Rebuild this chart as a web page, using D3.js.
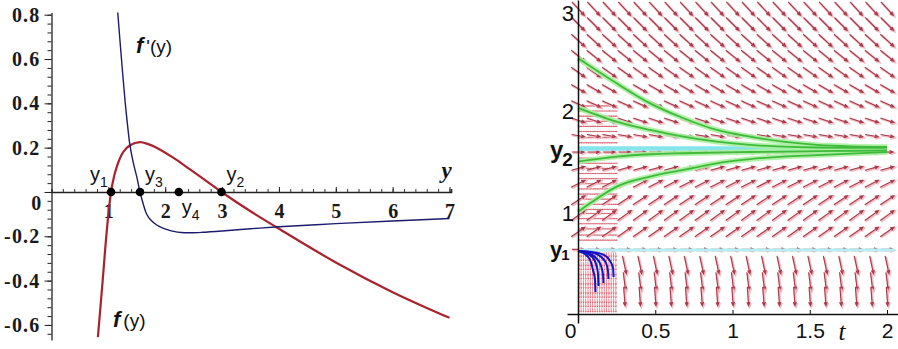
<!DOCTYPE html>
<html><head><meta charset="utf-8">
<script src="https://cdn.jsdelivr.net/npm/d3@7"></script>
<style>body{margin:0;background:#fff} svg{display:block}</style>
</head><body><svg id="c" width="898" height="349"></svg>
<script>
// ---------- Left panel data: f(y) and f'(y) ----------
const fY    = [0.816,0.90,0.973,1.047,1.10,1.148,1.20,1.264,1.38,1.556,1.70,1.847,2.14,2.43,2.72,2.99,3.5,3.95,5.0,6.0,7.0];
const fVal  = [-0.655,-0.40,-0.173,0,0.07,0.113,0.15,0.181,0.211,0.225,0.216,0.200,0.155,0.103,0.050,0,-0.087,-0.158,-0.318,-0.452,-0.568];
const dfY   = [1.165,1.218,1.294,1.33,1.38,1.44,1.50,1.556,1.62,1.67,1.75,1.85,1.95,2.05,2.15,2.28,2.45,2.65,3.0,3.5,4.0,5.0,6.0,7.0];
const dfVal = [0.81,0.64,0.41,0.32,0.21,0.13,0.068,0,-0.06,-0.098,-0.128,-0.149,-0.162,-0.171,-0.178,-0.183,-0.184,-0.182,-0.176,-0.166,-0.157,-0.143,-0.131,-0.12];
const rootLabels = ["1","3","4","2"];
const rootVals   = [1.047,1.556,2.24,2.99];
const xTicksL = [1,2,3,4,5,6,7];
const yTicksL = [-0.6,-0.4,-0.2,0,0.2,0.4,0.6,0.8];

// ---------- Right panel data: direction field and solutions ----------
const tTicks  = [0,0.5,1,1.5,2];
const yTicksR = [1,2,3];
const eqLabels = ["1","2"];
const eqVals   = [0.63,1.615];
const fieldT = [0,0.1,0.2,0.3,0.4,0.5,0.6,0.7,0.8,0.9,1.0,1.1,1.2,1.3,1.4,1.5,1.6,1.7,1.8,1.9,2.0];
const fieldY = [2.98,2.83,2.67,2.52,2.36,2.2,2.05,1.89,1.74,1.58,1.42,1.27,1.11,0.96,0.80,0.63,0.48,0.32,0.17];
const fieldSlope = [-1.62,-1.51,-1.36,-1.22,-1.06,-0.87,-0.70,-0.49,-0.27,0,0.40,0.77,1.0,1.1,1.05,0,-7,-12,-20];
const fineT = [0.005,0.02,0.035,0.05,0.065,0.08,0.095,0.11,0.125,0.14,0.155,0.17,0.185,0.2,0.215,0.23,0.245];
const fineY = [2.03,1.98,1.93,1.88,1.83,1.78,1.72,1.67,1.52,1.47,1.42,1.37,1.32,1.27,1.22,1.17,1.12,1.07,1.02,0.98,0.93,0.88,0.83,0.77,0.72,
               0.58,0.54,0.49,0.45,0.40,0.36,0.31,0.27,0.22,0.18,0.13,0.09,0.04];
const fineSlope = [-0.05,-0.05,-0.05,-0.05,-0.05,-0.05,-0.05,-0.05,0.05,0.05,0.05,0.05,0.05,0.05,0.05,0.05,0.05,0.05,0.05,0.05,0.05,0.05,0.05,0.05,0.05,
               -30,-30,-30,-30,-30,-30,-30,-30,-30,-30,-30,-30,-30];
const green1T = [0,0.25,0.466,0.68,0.898,1.113,1.327,1.545,1.761,2.0];
const green1Y = [2.494,2.25,2.055,1.912,1.795,1.73,1.681,1.649,1.635,1.63];
const green2T = [0,0.25,0.466,0.68,0.898,1.113,1.327,1.545,2.0];
const green2Y = [2.01,1.876,1.795,1.73,1.681,1.649,1.632,1.624,1.62];
const green3T = [0,0.25,0.466,0.68,1.113,1.545,2.0];
const green3Y = [1.486,1.535,1.558,1.568,1.58,1.588,1.595];
const green4T = [0,0.142,0.25,0.466,0.68,0.898,1.113,1.327,1.545,1.761,2.0];
const green4Y = [0.998,1.144,1.242,1.34,1.405,1.47,1.51,1.535,1.55,1.565,1.58];
const blue1T = [0,0.045,0.078,0.097,0.110,0.113];
const blue1Y = [0.615,0.585,0.527,0.429,0.332,0.215];
const blue2T = [0,0.052,0.091,0.117,0.129,0.133];
const blue2Y = [0.615,0.595,0.556,0.488,0.400,0.273];
const blue3T = [0,0.065,0.117,0.149,0.162,0.165];
const blue3Y = [0.615,0.595,0.546,0.468,0.380,0.302];
const blue4T = [0,0.078,0.142,0.181,0.194,0.197];
const blue4Y = [0.615,0.605,0.566,0.498,0.420,0.341];
const blue5T = [0,0.091,0.168,0.207,0.227,0.230];
const blue5Y = [0.615,0.605,0.576,0.517,0.449,0.361];

const svg = d3.select("#c");
svg.append("rect").attr("width",898).attr("height",349).attr("fill","#fff");

// ===================== LEFT PANEL =====================
const xL = d3.scaleLinear().domain([0,7.03]).range([51.5,451.2]);
const yL = d3.scaleLinear().domain([-0.668,0.81]).range([340,12.5]);
const L = svg.append("g");
const hyph = d=> d===0 ? "0" : (d<0?"-":"") + Math.abs(d).toFixed(1);

const minorY = d3.range(-0.64,0.801,0.04).map(v=>+v.toFixed(2));
L.append("g").attr("transform",`translate(${xL(0)},0)`)
  .call(d3.axisLeft(yL).tickValues(minorY).tickSize(4).tickFormat(""))
  .call(g=>g.select(".domain").remove())
  .selectAll("line").attr("stroke","#222");
const ya = L.append("g").attr("transform",`translate(${xL(0)},0)`)
  .call(d3.axisLeft(yL).tickValues(yTicksL).tickSizeInner(7).tickSizeOuter(0).tickPadding(4).tickFormat(hyph));
ya.select(".domain").attr("stroke","#222").attr("stroke-width",1.3);
ya.selectAll("line").attr("stroke","#222");
ya.selectAll("text").attr("font-family","Liberation Serif").attr("font-weight","bold")
  .attr("font-size",20).attr("letter-spacing",1.2).attr("fill","#1a1a1a");
ya.selectAll(".tick").filter(d=>d===0).select("text").attr("x",-9).attr("dy","0.9em");

const xa0 = L.append("g").attr("transform",`translate(0,${yL(0)})`)
  .call(d3.axisBottom(xL).tickValues(d3.range(0.2,7.01,0.2).map(v=>+v.toFixed(1))).tickSize(-3).tickFormat(""));
xa0.select(".domain").attr("stroke","#222").attr("stroke-width",1.3);
xa0.selectAll("line").attr("stroke","#333");
const xa = L.append("g").attr("transform",`translate(0,${yL(0)})`)
  .call(d3.axisBottom(xL).tickValues(xTicksL).tickSizeInner(-5).tickSizeOuter(0).tickPadding(12).tickFormat(d3.format("d")));
xa.select(".domain").remove();
xa.selectAll("line").attr("stroke","#222");
xa.selectAll("text").attr("font-family","Liberation Serif").attr("font-weight","bold")
  .attr("font-size",20).attr("fill","#1a1a1a");

const lineF = d3.line().x((d,i)=>xL(fY[i])).y((d,i)=>yL(fVal[i])).curve(d3.curveCatmullRom);
L.append("path").attr("d",lineF(fY)).attr("fill","none").attr("stroke","#a8232e").attr("stroke-width",2.2);
const lineDF = d3.line().x((d,i)=>xL(dfY[i])).y((d,i)=>yL(dfVal[i])).curve(d3.curveCatmullRom);
L.append("path").attr("d",lineDF(dfY)).attr("fill","none").attr("stroke","#1c1c6e").attr("stroke-width",1.4);

L.selectAll("circle.root").data(rootVals).join("circle")
  .attr("cx",d=>xL(d)).attr("cy",yL(0)).attr("r",4.3).attr("fill","#000");
const rootLabelPos = [[-21,-11],[5,-11],[3,22],[5,-11]];
rootVals.forEach((v,i)=>{
  const t = L.append("text").attr("x",xL(v)+rootLabelPos[i][0]).attr("y",yL(0)+rootLabelPos[i][1])
    .attr("font-family","Liberation Sans").attr("font-size",20).attr("fill","#111");
  t.append("tspan").text("y");
  t.append("tspan").attr("font-size",14).attr("dy",6).text(rootLabels[i]);
});
L.append("text").attr("x",xL(6.95)).attr("y",yL(0)-14).attr("text-anchor","middle")
  .attr("font-family","Liberation Serif").attr("font-style","italic").attr("font-weight","bold")
  .attr("font-size",23).attr("fill","#111").text("y");
const tf1 = L.append("text").attr("x",136).attr("y",53).attr("font-family","Liberation Sans").attr("font-size",19).attr("fill","#111");
tf1.append("tspan").attr("font-weight","bold").attr("font-style","italic").attr("font-size",22).text("f");
tf1.append("tspan").attr("dx",3).text("'(y)");
const tf2 = L.append("text").attr("x",113).attr("y",327).attr("font-family","Liberation Sans").attr("font-size",19).attr("fill","#111");
tf2.append("tspan").attr("font-weight","bold").attr("font-style","italic").attr("font-size",22).text("f");
tf2.append("tspan").attr("dx",3).text("(y)");

// ===================== RIGHT PANEL =====================
const xR = d3.scaleLinear().domain([-0.0712,2.071]).range([567,898]);
const yR = d3.scaleLinear().domain([-0.088,3.063]).range([323,0]);
const R = svg.append("g");

function arrowPath(t,yv,s,len,head){
  const cx=xR(t), cy=yR(yv);
  let vx=xR(t+0.01)-xR(t), vy=yR(yv+s*0.01)-yR(yv);
  const n=Math.hypot(vx,vy); vx/=n; vy/=n;
  const x1=cx-vx*len/2, y1=cy-vy*len/2, x2=cx+vx*len/2, y2=cy+vy*len/2;
  const a=0.42, bx=-vx, by=-vy;
  const h1x=x2+head*(bx*Math.cos(a)-by*Math.sin(a)), h1y=y2+head*(bx*Math.sin(a)+by*Math.cos(a));
  const h2x=x2+head*(bx*Math.cos(-a)-by*Math.sin(-a)), h2y=y2+head*(bx*Math.sin(-a)+by*Math.cos(-a));
  return `M${x1},${y1}L${x2},${y2}M${h1x},${h1y}L${x2},${y2}L${h2x},${h2y}`;
}

const fineG = R.append("g");
fineY.forEach((yv,j)=>{
  fineT.forEach(t=>{
    const s=fineSlope[j];
    const steep=Math.abs(s)>5;
    const d=arrowPath(t,yv,s,steep?4.6:1.8,steep?1.4:0.8);
    fineG.append("path").attr("d",d).attr("fill","none")
      .attr("stroke",steep?"#e0606e":"#d24656").attr("stroke-width",steep?0.9:1.1).attr("opacity",0.8);
  });
});

const fieldG = R.append("g");
fieldY.forEach((yv,j)=>{
  const s=fieldSlope[j];
  fieldT.forEach(t=>{
    if (yv<0.6 && t<0.25) return;
    const len=Math.min(12+4.4*Math.abs(s),18);
    const d=arrowPath(t,yv,s,len,3.8);
    fieldG.append("path").attr("d",d).attr("fill","none").attr("stroke","#f2bcc3").attr("stroke-width",2.4)
      .attr("transform","translate(0.9,0.9)");
    fieldG.append("path").attr("d",d).attr("fill","none").attr("stroke","#a83a4c").attr("stroke-width",1.15);
  });
});

R.append("line").attr("x1",xR(0)).attr("x2",xR(2)).attr("y1",yR(eqVals[1])).attr("y2",yR(eqVals[1]))
  .attr("stroke","#86e4ec").attr("stroke-width",4.5);
R.append("line").attr("x1",xR(0)).attr("x2",xR(2.05)).attr("y1",yR(eqVals[0])+0.5).attr("y2",yR(eqVals[0])+0.5)
  .attr("stroke","#b4eef2").attr("stroke-width",3);

const greens=[[green1T,green1Y],[green2T,green2Y],[green3T,green3Y],[green4T,green4Y]];
const lineR = (T,Y)=>d3.line().x((d,i)=>xR(T[i])).y((d,i)=>yR(Y[i])).curve(d3.curveMonotoneX)(T);
greens.forEach(([T,Y])=>{
  R.append("path").attr("d",lineR(T,Y)).attr("fill","none").attr("stroke","#a8f0a0").attr("stroke-width",5.5).attr("opacity",0.9);
});
greens.forEach(([T,Y])=>{
  R.append("path").attr("d",lineR(T,Y)).attr("fill","none").attr("stroke","#3fba3a").attr("stroke-width",1.8);
});
[[blue1T,blue1Y],[blue2T,blue2Y],[blue3T,blue3Y],[blue4T,blue4Y],[blue5T,blue5Y]].forEach(([T,Y])=>{
  R.append("path").attr("d",lineR(T,Y)).attr("fill","none").attr("stroke","#1414c4").attr("stroke-width",2);
});

const xaR = R.append("g").attr("transform",`translate(0,${yR(0)})`)
  .call(d3.axisBottom(xR).tickValues(tTicks).tickSizeInner(-4).tickSizeOuter(0).tickPadding(9)
        .tickFormat(d=>String(d)));
xaR.select(".domain").attr("stroke","#111").attr("stroke-width",1.5);
xaR.selectAll("line").attr("stroke","#111");
xaR.selectAll("text").attr("font-family","Liberation Sans").attr("font-size",21).attr("fill","#111");
xaR.selectAll(".tick").filter(d=>d===0).select("text").attr("x",-8);
const yaR = R.append("g").attr("transform",`translate(${xR(0)},0)`)
  .call(d3.axisLeft(yR).tickValues(yTicksR).tickSizeInner(0).tickSizeOuter(0).tickPadding(4).tickFormat(d=>String(d)));
yaR.select(".domain").attr("stroke","#111").attr("stroke-width",1.5);
yaR.selectAll("text").attr("font-family","Liberation Sans").attr("font-size",22).attr("fill","#111").attr("dy","0.42em");
yaR.selectAll(".tick").filter(d=>d===3).select("text").attr("dy","0.62em");

eqVals.forEach((v,i)=>{
  const t=R.append("text").attr("x",550).attr("y",yR(v)+ (i===1?10:8))
    .attr("font-family","Liberation Sans").attr("font-weight","bold").attr("font-size",i===1?24:22).attr("fill","#111");
  t.append("tspan").text("y");
  t.append("tspan").attr("font-size",i===1?19:15).attr("dy",i===1?8:3).attr("dx",-1).text(eqLabels[i]);
});
R.append("text").attr("x",842).attr("y",340).attr("text-anchor","middle")
  .attr("font-family","Liberation Serif").attr("font-style","italic").attr("font-size",25).attr("fill","#111").text("t");
</script>
</body></html>
